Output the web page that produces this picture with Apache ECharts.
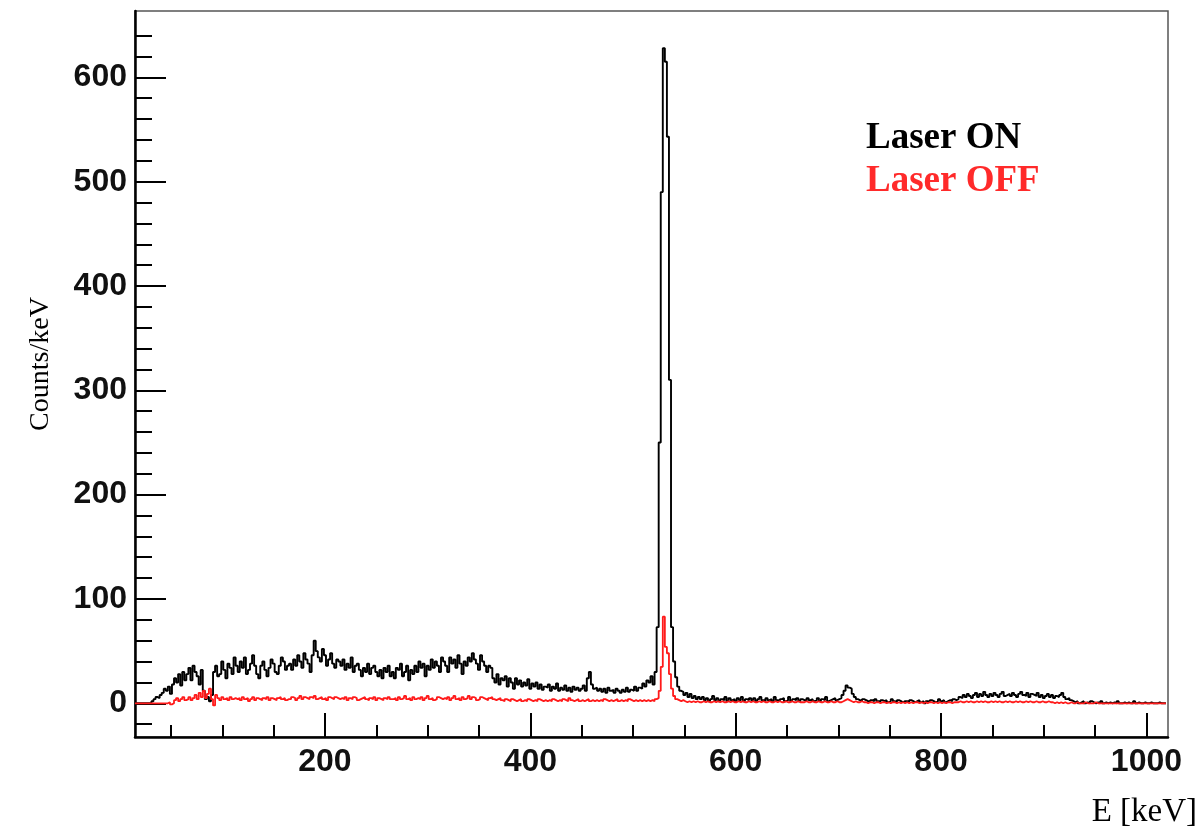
<!DOCTYPE html>
<html><head><meta charset="utf-8">
<script src="https://cdn.jsdelivr.net/npm/echarts@6/dist/echarts.min.js"></script>
<style>html,body{margin:0;padding:0;background:#fff}#c{width:1200px;height:829px}</style>
</head><body><div id="c"></div>
<script>
// Histogram binning (keV): first bin edge and bin width
const binStart = 15;
const binWidth = 2;

// Counts/keV, Laser ON (black), one row = 25 bins = 50 keV
const laserOn = [
  0,0,0,0,0,0,0,0,2,4,6,5,8,10,14,12,16,9,18,24,20,28,17,30,22,
  28,34,22,36,30,26,18,32,12,4,6,2,8,30,36,26,28,40,32,24,38,34,28,44,36,
  30,40,34,44,28,32,38,46,36,28,24,36,40,32,26,34,42,38,30,28,36,44,40,32,36,
  38,32,42,36,46,40,34,48,42,38,30,46,60,50,44,40,52,46,36,42,48,38,34,42,40,
  36,42,32,38,34,44,30,36,38,32,26,34,30,38,28,34,36,30,26,32,24,34,30,36,26,
  30,24,34,32,38,26,30,36,22,32,28,36,30,40,34,38,26,36,32,42,34,40,36,30,44,
  40,36,30,44,38,42,34,46,38,28,40,36,44,40,48,42,38,32,46,40,36,30,36,34,24,
  20,28,18,24,22,26,16,24,20,14,24,18,22,16,20,17,23,14,19,16,20,14,18,13,16,
  15,18,12,16,14,19,12,15,13,17,12,15,11,16,13,15,12,14,17,12,24,30,18,14,15,
  12,14,11,14,10,15,12,13,10,14,12,10,13,11,15,11,13,12,16,12,15,14,19,16,22,
  20,26,18,30,73,250,490,628,615,543,310,73,40,25,16,12,11,8,10,6,9,5,7,4,6,
  4,6,3,5,2,4,7,3,5,2,4,3,6,2,5,3,4,2,5,3,6,2,4,3,5,
  3,5,2,4,6,3,2,5,3,4,2,6,3,2,4,5,2,3,6,2,4,3,5,2,4,
  3,2,5,3,4,2,3,5,2,4,3,6,2,3,4,5,3,4,5,8,12,17,15,14,9,
  6,4,3,2,4,3,2,1,3,2,4,2,1,3,2,3,1,2,4,2,1,3,2,1,2,
  2,1,3,2,1,2,3,1,2,0,2,1,3,2,1,2,4,2,3,1,2,3,2,4,3,
  4,6,5,8,6,9,7,5,8,10,6,9,7,11,8,6,9,7,10,8,6,9,11,7,8,
  9,7,10,8,6,9,11,8,7,10,6,9,8,7,10,6,8,5,7,9,6,8,5,7,6,
  8,10,6,4,5,3,2,1,2,0,1,2,0,1,0,2,1,0,1,0,2,0,1,0,1,
  0,1,0,2,0,0,1,0,1,0,0,2,0,1,0,0,1,0,0,1,0,0,0,1,0,
  0,0
];

// Counts/keV, Laser OFF (red)
const laserOff = [
  0,0,0,0,0,0,0,0,0,0,0,0,0,0,0,0,1,-1,0,3,5,2,4,6,3,
  4,6,3,5,8,4,10,6,12,5,9,14,4,-2,8,5,3,6,4,5,3,6,4,5,4,
  5,3,6,4,5,2,4,6,3,5,4,3,5,4,6,3,5,4,3,5,6,4,5,3,4,
  4,6,5,3,5,7,4,6,5,4,6,5,7,4,5,6,4,5,3,6,5,4,6,5,4,
  5,4,6,3,5,4,6,5,3,4,5,6,4,3,5,4,6,3,5,4,3,5,4,6,4,
  4,5,3,6,4,5,7,4,5,3,6,4,5,4,6,3,5,7,4,5,3,4,6,5,4,
  5,4,6,3,5,7,4,5,3,6,4,5,7,4,6,5,3,4,6,5,4,3,5,6,4,
  3,4,5,3,2,4,3,2,4,3,2,3,4,2,3,2,4,3,2,3,2,4,3,2,3,
  2,3,2,4,3,2,3,2,4,3,2,5,3,2,3,4,2,3,2,3,4,2,3,2,3,
  2,3,2,4,3,2,3,2,3,4,2,3,2,3,2,4,3,2,3,2,3,2,3,2,3,
  2,3,2,4,5,12,35,83,54,48,28,14,7,4,3,2,3,2,1,2,1,2,1,2,1,
  1,2,1,2,1,1,2,1,2,1,2,1,1,2,1,2,1,1,2,1,2,1,1,2,1,
  2,1,1,2,1,2,1,1,2,1,1,2,1,2,1,1,2,1,1,2,1,1,2,1,1,
  1,2,1,1,2,1,1,2,1,1,2,1,1,2,1,1,2,1,1,2,3,4,3,2,1,
  2,1,1,2,1,1,0,1,1,0,1,1,0,1,1,0,1,0,1,1,0,1,0,1,0,
  1,0,1,0,1,1,0,1,0,1,0,1,1,0,1,0,1,0,1,0,1,1,0,1,1,
  1,2,1,1,2,1,2,1,1,2,1,2,1,2,1,1,2,1,2,1,2,1,1,2,1,
  2,1,1,2,1,2,1,1,2,1,2,1,1,2,1,1,2,1,1,2,1,1,0,1,0,
  1,0,1,0,0,1,0,0,1,0,0,0,1,0,0,0,0,1,0,0,0,0,0,0,0,
  0,0,0,0,0,0,0,0,0,0,0,0,0,0,0,0,0,0,0,0,0,0,0,0,0,
  0,0
];

const xMajorTicks = [200, 400, 600, 800, 1000];
const xMinorTicks = [50, 100, 150, 250, 300, 350, 450, 500, 550, 650, 700, 750, 850, 900, 950];
const yMajorTicks = [0, 100, 200, 300, 400, 500, 600];
const yMinorTicks = [-20, 20, 40, 60, 80, 120, 140, 160, 180, 220, 240, 260, 280, 320, 340, 360, 380,
  420, 440, 460, 480, 520, 540, 560, 580, 620, 640];
const seriesNames = ['Laser ON', 'Laser OFF'];
const xTitle = 'E [keV]';
const yTitle = 'Counts/keV';

function toSteps(counts) {
  const d = counts.map((v, i) => [binStart + i * binWidth, v]);
  d.push([binStart + counts.length * binWidth, counts[counts.length - 1]]);
  return d;
}

const labelFont = { fontFamily: 'Liberation Sans', fontWeight: 'bold', fontSize: 32, color: '#111',
  formatter: v => String(v) };
const axisBase = { type: 'value', splitLine: { show: false } };

const chart = echarts.init(document.getElementById('c'), null, { renderer: 'canvas' });
chart.setOption({
  animation: false,
  backgroundColor: '#fff',
  grid: { left: 135, right: 32, top: 11, bottom: 92, show: true, borderColor: '#555', borderWidth: 1.5 },
  legend: {
    left: 856, top: 115, orient: 'vertical', icon: 'none', itemWidth: 0, itemHeight: 0, itemGap: 6,
    selectedMode: false,
    textStyle: { fontFamily: 'Liberation Serif', fontWeight: 'bold', fontSize: 37 },
    data: [
      { name: seriesNames[0], textStyle: { color: '#000' } },
      { name: seriesNames[1], textStyle: { color: '#ff2a2a' } }
    ]
  },
  xAxis: [
    Object.assign({}, axisBase, {
      min: 15, max: 1021, position: 'bottom',
      axisLine: { show: true, onZero: false, lineStyle: { color: '#000', width: 2.5 } },
      axisTick: { show: true, inside: true, length: 24, customValues: xMajorTicks, lineStyle: { color: '#000', width: 2 } },
      axisLabel: Object.assign({ customValues: xMajorTicks, margin: 9 }, labelFont)
    }),
    Object.assign({}, axisBase, {
      min: 15, max: 1021, position: 'bottom',
      axisLine: { show: false, onZero: false },
      axisTick: { show: true, inside: true, length: 12, customValues: xMinorTicks, lineStyle: { color: '#000', width: 2 } },
      axisLabel: { show: false }
    })
  ],
  yAxis: [
    Object.assign({}, axisBase, {
      min: -32.3, max: 663.6, position: 'left',
      axisLine: { show: true, onZero: false, lineStyle: { color: '#000', width: 2.5 } },
      axisTick: { show: true, inside: true, length: 31, customValues: yMajorTicks, lineStyle: { color: '#000', width: 2 } },
      axisLabel: Object.assign({ customValues: yMajorTicks, margin: 8 }, labelFont)
    }),
    Object.assign({}, axisBase, {
      min: -32.3, max: 663.6, position: 'left',
      axisLine: { show: false, onZero: false },
      axisTick: { show: true, inside: true, length: 17, customValues: yMinorTicks, lineStyle: { color: '#000', width: 2 } },
      axisLabel: { show: false }
    })
  ],
  graphic: [
    { type: 'text', x: 41, y: 364, rotation: Math.PI / 2,
      style: { text: yTitle, font: '28px "Liberation Serif"', fill: '#000', align: 'center', verticalAlign: 'middle' } },
    { type: 'text', x: 1197, y: 812,
      style: { text: xTitle, font: '33px "Liberation Serif"', fill: '#000', align: 'right', verticalAlign: 'middle' } }
  ],
  series: [
    { name: seriesNames[0], type: 'line', step: 'end', showSymbol: false, symbol: 'none',
      xAxisIndex: 0, yAxisIndex: 0, data: toSteps(laserOn),
      lineStyle: { color: '#000', width: 1.9 }, itemStyle: { color: '#000' } },
    { name: seriesNames[1], type: 'line', step: 'end', showSymbol: false, symbol: 'none',
      xAxisIndex: 0, yAxisIndex: 0, data: toSteps(laserOff),
      lineStyle: { color: '#ff1a1a', width: 1.8 }, itemStyle: { color: '#ff1a1a' } }
  ]
});
</script>
</body></html>
